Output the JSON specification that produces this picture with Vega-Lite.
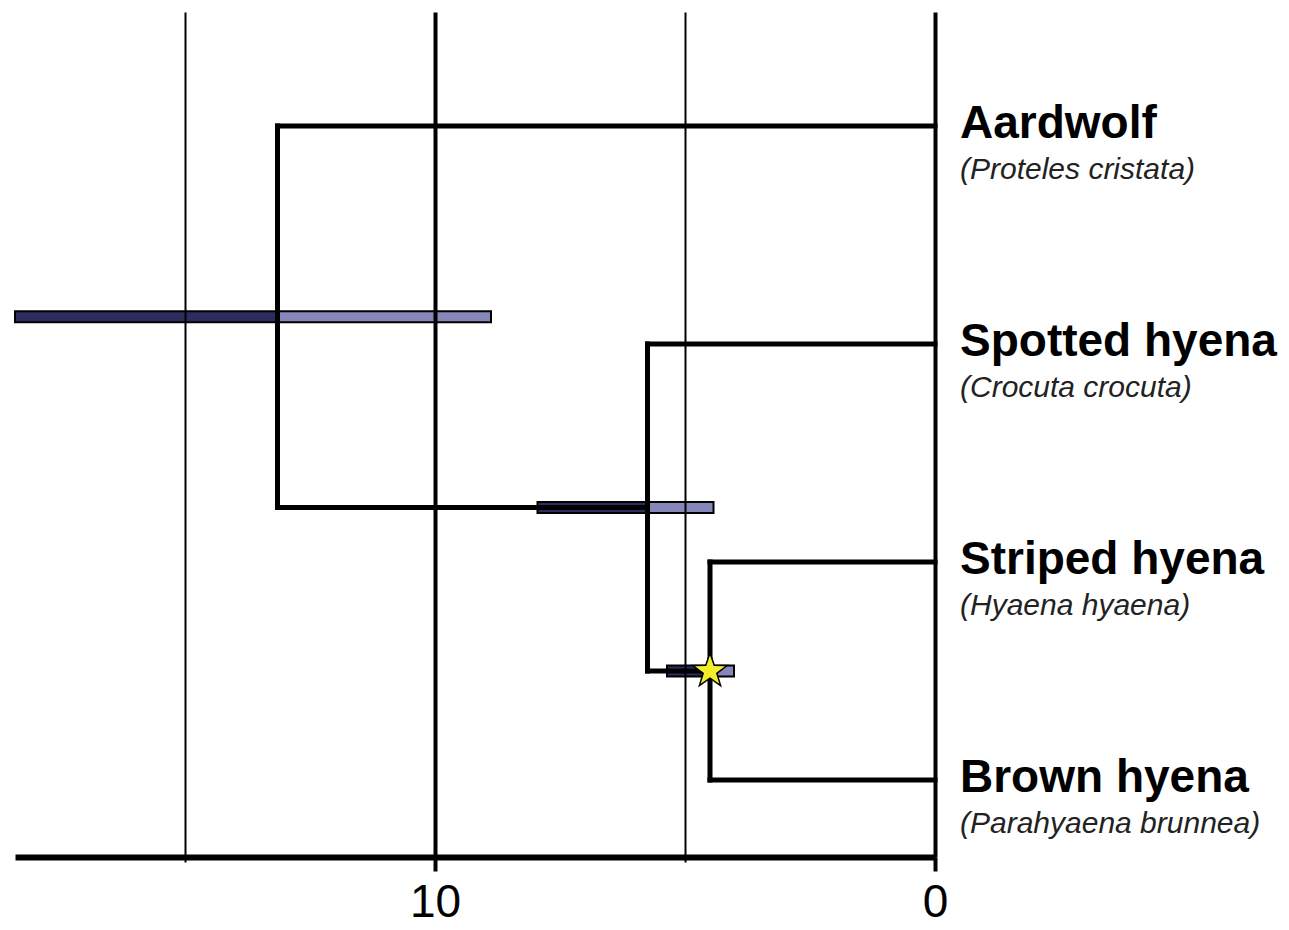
{
  "$schema": "https://vega.github.io/schema/vega-lite/v6.json",
  "autosize": "none",
  "width": 920,
  "height": 845,
  "padding": {"left": 15, "top": 12, "right": 354, "bottom": 73},
  "background": "white",
  "config": {"view": {"stroke": null}},
  "datasets": {
    "branches": [
      {"x": 13.15, "x2": 13.15, "y": 1, "y2": 2.75},
      {"x": 13.15, "x2": 0, "y": 1, "y2": 1},
      {"x": 13.15, "x2": 5.75, "y": 2.75, "y2": 2.75},
      {"x": 5.75, "x2": 5.75, "y": 2, "y2": 3.5},
      {"x": 5.75, "x2": 0, "y": 2, "y2": 2},
      {"x": 5.75, "x2": 4.5, "y": 3.5, "y2": 3.5},
      {"x": 4.5, "x2": 4.5, "y": 3, "y2": 4},
      {"x": 4.5, "x2": 0, "y": 3, "y2": 3},
      {"x": 4.5, "x2": 0, "y": 4, "y2": 4}
    ],
    "intervals": [
      {"node": "root", "part": "older", "from": 18.4, "to": 13.15, "y": 1.875},
      {"node": "root", "part": "younger", "from": 13.15, "to": 8.88, "y": 1.875},
      {"node": "hyaenids", "part": "older", "from": 7.95, "to": 5.75, "y": 2.75},
      {"node": "hyaenids", "part": "younger", "from": 5.75, "to": 4.43, "y": 2.75},
      {"node": "hyaena", "part": "older", "from": 5.36, "to": 4.5, "y": 3.5},
      {"node": "hyaena", "part": "younger", "from": 4.5, "to": 4.02, "y": 3.5}
    ],
    "taxa": [
      {"name": "Aardwolf", "species": "(Proteles cristata)", "y": 1},
      {"name": "Spotted hyena", "species": "(Crocuta crocuta)", "y": 2},
      {"name": "Striped hyena", "species": "(Hyaena hyaena)", "y": 3},
      {"name": "Brown hyena", "species": "(Parahyaena brunnea)", "y": 4}
    ],
    "calibration": [{"age": 4.5, "y": 3.5}]
  },
  "layer": [
    {
      "data": {"name": "intervals"},
      "mark": {"type": "bar", "size": 11, "stroke": "black", "strokeWidth": 2},
      "encoding": {
        "x": {
          "field": "from",
          "type": "quantitative",
          "scale": {"domain": [0, 18.4], "reverse": true, "nice": false, "zero": false},
          "axis": {
            "values": [15, 10, 5, 0],
            "title": null,
            "zindex": 1,
            "grid": true,
            "gridColor": "black",
            "gridOpacity": 1,
            "gridWidth": {"condition": {"test": "datum.value % 10 === 0", "value": 4}, "value": 2},
            "domainColor": "black",
            "domainWidth": 6,
            "tickColor": "black",
            "tickWidth": {"condition": {"test": "datum.value % 10 === 0", "value": 4}, "value": 2},
            "tickSize": {"condition": {"test": "datum.value % 10 === 0", "value": 14}, "value": 5},
            "labelExpr": "datum.value % 10 === 0 ? datum.label : ''",
            "labelFont": "Liberation Sans",
            "labelFontSize": 46,
            "labelColor": "black",
            "labelPadding": 9,
            "labelFlush": false,
            "labelOverlap": false
          }
        },
        "x2": {"field": "to"},
        "y": {
          "field": "y",
          "type": "quantitative",
          "scale": {"domain": [0.5, 4.33], "reverse": true, "nice": false, "zero": false},
          "axis": null
        },
        "color": {
          "field": "part",
          "type": "nominal",
          "scale": {"domain": ["older", "younger"], "range": ["#2e2b5e", "#8786b8"]},
          "legend": null
        }
      }
    },
    {
      "data": {"name": "branches"},
      "mark": {"type": "rule", "color": "black", "strokeWidth": 5, "strokeCap": "square"},
      "encoding": {
        "x": {"field": "x", "type": "quantitative"},
        "x2": {"field": "x2"},
        "y": {"field": "y", "type": "quantitative"},
        "y2": {"field": "y2"}
      }
    },
    {
      "data": {"name": "calibration"},
      "mark": {
        "type": "point",
        "shape": "M0,-1L0.235,-0.324L0.951,-0.309L0.38,0.124L0.588,0.809L0,0.4L-0.588,0.809L-0.38,0.124L-0.951,-0.309L-0.235,-0.324Z",
        "filled": true,
        "fill": "#f2ee2c",
        "stroke": "black",
        "strokeWidth": 1.5,
        "opacity": 1,
        "size": 1300
      },
      "encoding": {
        "x": {"field": "age", "type": "quantitative"},
        "y": {"field": "y", "type": "quantitative"}
      }
    },
    {
      "data": {"name": "taxa"},
      "mark": {"type": "text", "align": "left", "baseline": "alphabetic", "dx": 25, "dy": 12, "font": "Liberation Sans", "fontWeight": "bold", "fontSize": 46, "color": "black"},
      "encoding": {
        "x": {"datum": 0, "type": "quantitative"},
        "y": {"field": "y", "type": "quantitative"},
        "text": {"field": "name"}
      }
    },
    {
      "data": {"name": "taxa"},
      "mark": {"type": "text", "align": "left", "baseline": "alphabetic", "dx": 25, "dy": 53, "font": "Liberation Sans", "fontStyle": "italic", "fontSize": 30, "color": "#222222"},
      "encoding": {
        "x": {"datum": 0, "type": "quantitative"},
        "y": {"field": "y", "type": "quantitative"},
        "text": {"field": "species"}
      }
    }
  ]
}
